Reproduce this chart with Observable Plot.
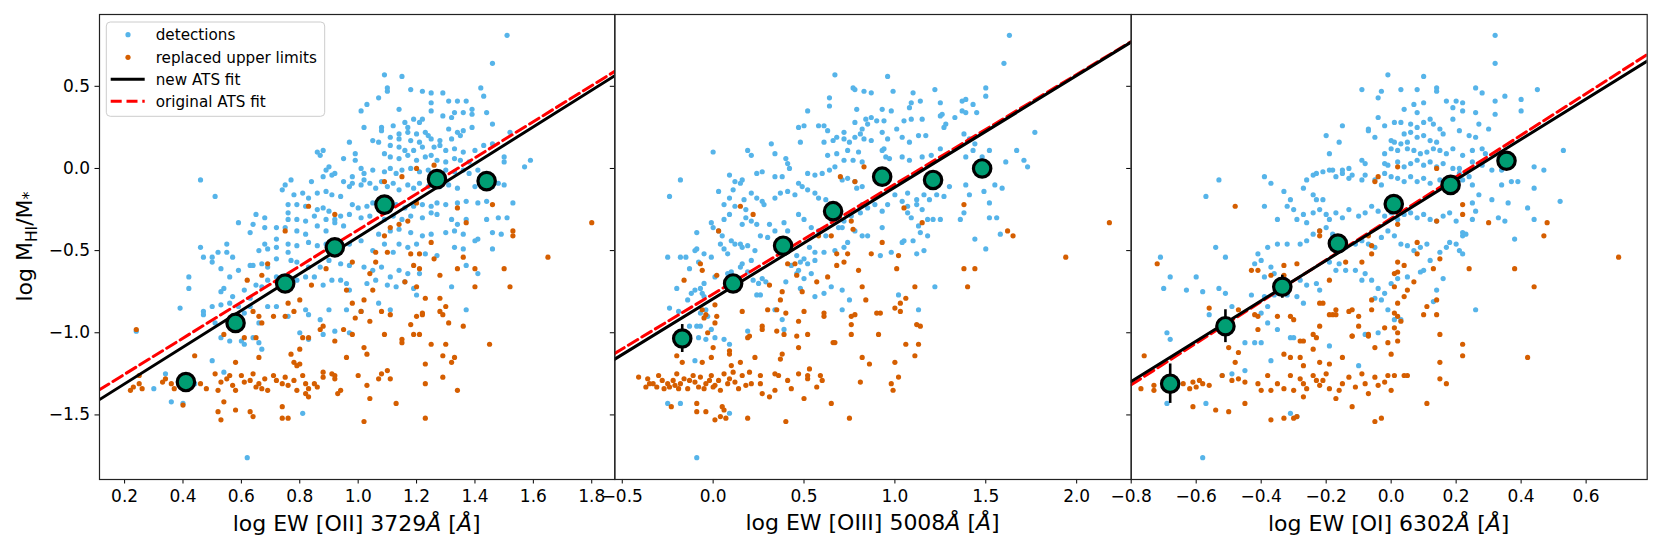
<!DOCTYPE html>
<html><head><meta charset="utf-8">
<script src="https://cdn.jsdelivr.net/npm/d3@7"></script>
<script src="https://cdn.jsdelivr.net/npm/@observablehq/plot@0.6"></script>
<style>body{margin:0;background:#fff;} #chart{position:relative;width:1661px;height:554px;overflow:hidden;}</style>
</head><body><div id="chart"></div>
<script>
// ---------- data ----------
const yTicks = [-1.5, -1.0, -0.5, 0.0, 0.5];
const yDomain = [-1.893, 0.937];
const xTicks1 = [0.2, 0.4, 0.6, 0.8, 1.0, 1.2, 1.4, 1.6, 1.8];
const xTicks2 = [-0.5, 0.0, 0.5, 1.0, 1.5, 2.0];
const xTicks3 = [-0.8, -0.6, -0.4, -0.2, 0.0, 0.2, 0.4, 0.6];
const xDomains = [[0.114, 1.879], [-0.541, 2.300], [-0.80, 0.788]];
const xLabels = ["log EW [OII] 3729", "log EW [OIII] 5008", "log EW [OI] 6302"];
const yLabel = ["log M", "HI", "/M", "*"];
const legendLabels = ["detections", "replaced upper limits", "new ATS fit", "original ATS fit"];
// fits: [slope, intercept]
const fitNew = [[1.117, -1.534], [0.679, -0.793], [1.228, -0.314]];
const fitOrig = [[1.098, -1.472], [0.668, -0.764], [1.266, -0.304]];
// binned means: [x, y, yerr]
const bins1 = [[0.41,-1.30,0.05],[0.58,-0.94,0.04],[0.75,-0.70,0.03],[0.92,-0.48,0.03],[1.09,-0.22,0.03],[1.27,-0.065,0.03],[1.44,-0.077,0.04]];
const bins2 = [[-0.17,-1.035,0.085],[0.11,-0.70,0.05],[0.385,-0.47,0.04],[0.66,-0.26,0.03],[0.93,-0.05,0.03],[1.21,-0.07,0.04],[1.48,0.0,0.05]];
const bins3 = [[-0.68,-1.31,0.12],[-0.51,-0.96,0.10],[-0.335,-0.72,0.07],[-0.164,-0.457,0.04],[0.008,-0.217,0.03],[0.183,-0.10,0.03],[0.355,0.047,0.04]];

const det1 = [[1.51,0.81],[1.46,0.64],[1.09,0.57],[1.15,0.56],[1.10,0.49],[1.10,0.47],[1.18,0.48],[1.22,0.47],[1.25,0.46],[1.29,0.46],[1.07,0.43],[1.42,0.49],[1.43,0.44],[1.34,0.41],[1.37,0.41],[1.31,0.41],[1.25,0.40],[1.03,0.39],[1.01,0.35],[1.14,0.36],[1.39,0.36],[1.39,0.33],[1.44,0.34],[1.29,0.32],[1.32,0.31],[1.33,0.34],[1.36,0.34],[1.25,0.35],[1.19,0.30],[1.21,0.28],[1.22,0.30],[1.16,0.28],[1.17,0.25],[1.46,0.27],[1.08,0.25],[1.12,0.26],[1.02,0.25],[1.08,0.23],[1.31,0.24],[1.34,0.22],[1.36,0.23],[1.39,0.25],[1.14,0.21],[1.17,0.22],[1.20,0.21],[1.23,0.22],[1.24,0.20],[1.11,0.19],[1.14,0.18],[1.18,0.17],[1.21,0.16],[1.25,0.18],[1.28,0.17],[1.32,0.18],[1.35,0.20],[0.97,0.16],[1.05,0.17],[1.07,0.16],[1.52,0.22],[1.43,0.14],[1.46,0.15],[1.11,0.14],[1.14,0.13],[1.16,0.11],[1.19,0.11],[1.22,0.13],[1.26,0.13],[1.28,0.14],[1.30,0.11],[1.33,0.12],[1.36,0.10],[1.40,0.11],[0.86,0.10],[0.88,0.11],[0.87,0.08],[0.95,0.06],[0.99,0.09],[0.99,0.05],[1.09,0.09],[1.11,0.07],[1.14,0.06],[1.17,0.08],[1.20,0.05],[1.23,0.07],[1.25,0.08],[1.27,0.05],[1.30,0.04],[1.33,0.06],[1.35,0.05],[1.38,0.04],[1.50,0.07],[1.50,0.04],[1.59,0.05],[1.57,0.01],[0.90,0.01],[0.89,-0.01],[0.92,-0.03],[1.01,0.00],[1.02,-0.03],[0.98,-0.05],[1.02,-0.07],[1.05,-0.01],[1.09,-0.02],[1.11,0.00],[1.13,-0.03],[1.15,-0.01],[1.18,0.00],[1.21,-0.02],[1.24,-0.01],[1.30,-0.01],[1.33,-0.02],[1.36,-0.01],[1.38,-0.03],[1.41,-0.01],
[0.98,-0.09],[1.01,-0.10],[1.04,-0.09],[1.06,-0.12],[1.08,-0.08],[1.10,-0.11],[1.12,-0.09],[1.14,-0.13],[1.17,-0.10],[1.19,-0.12],[1.21,-0.09],[1.24,-0.11],[1.28,-0.11],[1.31,-0.10],[1.34,-0.12],[1.40,-0.11],[1.46,-0.11],[1.48,-0.09],[1.50,-0.10],[0.84,-0.08],[0.88,-0.05],[0.91,-0.04],[0.95,-0.08],[0.97,-0.11],[0.46,-0.07],[0.51,-0.17],[0.74,-0.13],[0.77,-0.07],[0.75,-0.10],[0.78,-0.16],[0.81,-0.15],[0.83,-0.18],[0.86,-0.15],[0.89,-0.14],[0.91,-0.16],[0.94,-0.17],[0.76,-0.22],[0.79,-0.22],[0.82,-0.23],[0.86,-0.25],[0.88,-0.24],[0.90,-0.26],[0.98,-0.22],[1.00,-0.24],[1.03,-0.23],[1.05,-0.21],[1.07,-0.25],[1.10,-0.23],[1.13,-0.22],[1.16,-0.24],[1.19,-0.23],[1.22,-0.22],[1.25,-0.23],[1.27,-0.21],[1.30,-0.22],[1.34,-0.21],[1.37,-0.20],[1.41,-0.21],[1.44,-0.20],[1.53,-0.21],
[0.65,-0.28],[0.68,-0.30],[0.76,-0.27],[0.76,-0.31],[0.79,-0.31],[0.82,-0.32],[0.85,-0.29],[0.89,-0.31],[0.92,-0.31],[0.94,-0.29],[0.97,-0.28],[1.01,-0.30],[1.04,-0.29],[1.09,-0.31],[1.12,-0.29],[1.15,-0.31],[1.18,-0.29],[1.22,-0.30],[1.25,-0.27],[1.27,-0.28],[1.32,-0.31],[1.34,-0.34],[1.37,-0.31],[1.44,-0.31],[1.48,-0.30],[1.51,-0.30],[0.59,-0.33],
[0.63,-0.39],[0.64,-0.34],[0.68,-0.36],[0.72,-0.36],[0.75,-0.36],[0.79,-0.38],[0.82,-0.40],[0.86,-0.35],[0.89,-0.38],[0.92,-0.33],[0.95,-0.35],[1.07,-0.40],[1.11,-0.38],[1.14,-0.37],[1.18,-0.39],[1.22,-0.41],[1.25,-0.40],[1.30,-0.39],[1.33,-0.38],[1.36,-0.40],[1.40,-0.44],[1.46,-0.39],[1.49,-0.40],
[0.72,-0.43],[0.68,-0.46],[0.66,-0.50],[0.69,-0.49],[0.72,-0.48],[0.76,-0.46],[0.79,-0.47],[0.83,-0.45],[0.86,-0.47],[0.89,-0.46],[0.97,-0.46],[1.01,-0.44],[1.05,-0.50],[1.09,-0.46],[1.12,-0.51],[1.14,-0.46],[1.17,-0.48],[1.20,-0.46],[1.23,-0.52],[1.27,-0.53],[1.33,-0.48],[1.36,-0.49],[1.46,-0.49],[1.41,-0.43],
[0.46,-0.48],[0.47,-0.54],[0.50,-0.54],[0.52,-0.51],[0.55,-0.46],[0.55,-0.51],[0.57,-0.54],[0.50,-0.57],[0.53,-0.61],[0.56,-0.66],[0.59,-0.62],[0.42,-0.66],[0.42,-0.73],
[0.63,-0.59],[0.64,-0.59],[0.67,-0.58],[0.69,-0.60],[0.72,-0.55],[0.76,-0.51],[0.77,-0.56],[0.79,-0.57],[0.83,-0.60],[0.87,-0.60],[0.90,-0.56],[0.94,-0.58],[0.97,-0.59],[1.02,-0.60],[1.05,-0.62],[1.08,-0.60],[1.11,-0.66],[1.14,-0.62],[1.17,-0.64],[1.21,-0.64],[1.37,-0.59],[1.41,-0.64],
[0.54,-0.73],[0.53,-0.75],[0.57,-0.78],[0.61,-0.74],[0.63,-0.79],[0.65,-0.71],[0.67,-0.72],[0.69,-0.68],[0.72,-0.66],[0.75,-0.72],[0.79,-0.68],[0.82,-0.66],[0.85,-0.66],[0.88,-0.71],[0.91,-0.68],[0.94,-0.68],[0.96,-0.70],[0.97,-0.74],[1.03,-0.70],[1.06,-0.68],[1.10,-0.71],[1.13,-0.72],[1.16,-0.69],[1.19,-0.73],[1.20,-0.77],[1.32,-0.72],
[0.39,-0.85],[0.47,-0.87],[0.47,-0.89],[0.50,-0.84],[0.51,-0.94],[0.53,-0.83],[0.56,-0.82],[0.59,-0.84],[0.61,-0.88],[0.63,-0.84],[0.66,-0.94],[0.69,-0.84],[0.72,-0.84],[0.76,-0.90],[0.82,-0.86],[0.83,-0.89],[0.87,-0.92],[0.90,-0.86],[0.96,-0.86],[1.01,-0.87],[1.07,-0.82],[1.11,-0.86],[1.37,-0.86],
[0.24,-0.99],[0.53,-1.03],[0.56,-1.05],[0.60,-1.05],[0.61,-1.07],[0.64,-1.03],[0.66,-1.06],[0.67,-1.10],[0.80,-1.00],[0.83,-1.04],[0.88,-1.01],[0.92,-0.99],[0.97,-1.00],[0.50,-1.17],[0.54,-1.24],[0.34,-1.25],[0.36,-1.42],[0.40,-1.43],[0.30,-1.34],[0.44,-1.31],[0.81,-1.49],[0.62,-1.76]];

const lim1 = [[0.24,-0.98],[1.80,-0.33],[1.65,-0.54],[1.53,-0.38],[1.53,-0.41],[1.46,-0.22],[1.37,-0.33],[1.34,-0.24],[1.50,-0.61],[1.52,-0.72],[1.45,-1.07],[1.40,-0.61],[1.40,-0.72],[1.36,-0.54],[1.34,-0.61],[1.36,-0.96],[1.28,-0.65],[1.30,-0.84],[1.28,-0.87],[1.29,-0.89],[1.31,-0.94],[1.28,-0.79],[1.30,-1.07],[1.25,-1.07],[1.33,-1.15],[1.32,-1.18],[1.29,-1.14],[1.29,-1.27],[1.34,-1.35],[1.23,-1.19],[1.23,-1.31],[1.23,-1.52],[1.25,-0.45],[1.26,-0.55],[1.26,0.02],[1.20,0.00],[1.20,-0.21],[1.15,-0.05],[1.17,-0.32],[1.14,-0.34],[1.11,-0.36],[1.09,-0.08],[1.18,-0.52],[1.21,-0.52],[1.19,-0.59],[1.21,-0.61],[1.20,-0.72],[1.23,-0.79],[1.16,-0.69],[1.22,-0.89],[1.22,-0.88],[1.20,-0.90],[1.18,-0.95],[1.19,-1.01],[1.21,-1.01],[1.15,-1.04],[1.15,-1.06],[1.13,-1.43],[1.11,-0.89],[1.08,-0.87],[1.09,-1.01],[1.10,-1.23],[1.11,-1.28],[1.08,-1.25],[1.07,-1.28],[1.09,-0.41],[1.10,-0.51],[1.06,-0.51],[1.06,-0.57],[1.04,-0.64],[1.05,-0.74],[1.02,-0.80],[1.02,-1.09],[1.03,-1.13],[1.01,-0.87],[0.99,-0.91],[1.00,-1.26],[1.04,-0.93],[1.03,-1.32],[1.04,-1.40],[1.02,-1.54],[0.98,-1.01],[0.98,-0.57],[0.98,-0.82],[0.96,-0.74],[0.96,-1.15],[0.95,-0.98],[0.92,-1.05],[0.92,-1.26],[0.91,-1.25],[0.92,-1.28],[0.94,-1.35],[0.93,-1.37],[0.89,-0.61],[0.92,-0.28],[0.83,-0.23],[0.84,-0.71],[0.80,-0.80],[0.76,-0.82],[0.78,-0.87],[0.75,-0.90],[0.71,-0.90],[0.66,-0.90],[0.67,-0.94],[0.64,-0.87],[0.62,-0.68],[0.67,-0.65],[0.69,-0.58],[0.75,-0.38],[0.66,-1.15],[0.58,-1.18],[0.61,-1.03],[0.65,-1.03],[0.80,-1.10],[0.83,-1.03],[0.81,-1.03],[0.77,-1.13],[0.78,-1.18],[0.79,-1.20],[0.80,-1.19],[0.88,-0.96],[0.87,-0.98],[0.44,-1.14],[0.54,-1.01],
[0.22,-1.35],[0.23,-1.33],[0.25,-1.31],[0.26,-1.34],[0.25,-1.26],[0.33,-1.30],[0.34,-1.28],[0.36,-1.31],[0.37,-1.34],[0.46,-1.31],[0.48,-1.34],[0.51,-1.25],[0.52,-1.35],[0.53,-1.30],[0.55,-1.28],[0.56,-1.26],[0.57,-1.32],[0.58,-1.35],[0.60,-1.26],[0.61,-1.30],[0.63,-1.29],[0.64,-1.25],[0.65,-1.33],[0.66,-1.31],[0.67,-1.34],[0.68,-1.28],[0.69,-1.35],[0.71,-1.26],[0.72,-1.29],[0.74,-1.31],[0.75,-1.27],[0.76,-1.32],[0.78,-1.29],[0.79,-1.35],[0.81,-1.26],[0.82,-1.31],[0.83,-1.34],[0.85,-1.31],[0.86,-1.33],[0.88,-1.24],[0.88,-1.27],[0.82,-1.37],[0.83,-1.39],[0.40,-1.44],[0.54,-1.42],[0.52,-1.48],[0.53,-1.53],[0.58,-1.47],[0.63,-1.48],[0.64,-1.51],[0.74,-1.45],[0.74,-1.52],[0.76,-1.52]];

const det2 = [[1.63,0.81],[1.60,0.64],[0.67,0.57],[0.96,0.56],[0.77,0.49],[0.78,0.48],[0.83,0.47],[0.87,0.46],[0.99,0.47],[1.10,0.46],[1.14,0.41],[1.22,0.48],[0.64,0.43],[0.64,0.38],[1.09,0.40],[1.25,0.40],[1.37,0.41],[1.39,0.42],[1.43,0.39],[1.50,0.49],[1.50,0.44],[0.79,0.36],[0.93,0.36],[0.98,0.35],[1.08,0.37],[1.37,0.35],[1.39,0.34],[1.45,0.34],[0.52,0.35],[1.26,0.33],[1.25,0.32],[0.84,0.30],[0.87,0.31],[0.90,0.29],[0.85,0.27],[0.94,0.29],[1.05,0.29],[1.09,0.30],[1.15,0.30],[1.28,0.27],[1.27,0.25],[1.33,0.31],[0.78,0.28],[0.82,0.24],[0.81,0.21],[0.58,0.26],[0.61,0.26],[0.63,0.23],[0.50,0.26],[0.47,0.25],[0.72,0.22],[0.75,0.16],[0.68,0.19],[0.72,0.18],[0.78,0.19],[0.83,0.18],[0.87,0.17],[0.93,0.22],[0.96,0.18],[1.01,0.24],[1.04,0.19],[1.08,0.16],[1.13,0.20],[1.17,0.20],[1.38,0.21],[1.41,0.18],[1.44,0.15],[1.77,0.22],[0.48,0.16],[0.61,0.16],[0.66,0.17],[0.32,0.15],[0.19,0.11],[0.21,0.08],[0.34,0.09],[0.00,0.10],[0.40,0.06],[0.41,0.03],[0.42,0.00],[0.63,0.08],[0.68,0.09],[0.74,0.11],[0.80,0.10],[0.72,0.05],[0.77,0.05],[0.82,0.04],[0.94,0.12],[0.93,0.11],[0.95,0.07],[0.97,0.06],[1.04,0.07],[1.08,0.05],[1.15,0.07],[1.20,0.08],[1.25,0.12],[1.39,0.07],[1.43,0.11],[1.48,0.07],[1.52,0.11],[1.61,0.04],[1.67,0.11],[1.71,0.05],[1.73,0.01],[0.24,-0.03],[0.27,-0.02],[0.34,-0.05],[0.38,-0.05],[0.09,-0.04],[0.16,-0.07],[0.15,-0.09],[0.12,-0.08],[0.11,-0.13],[0.03,-0.14],[0.09,-0.18],[-0.24,-0.17],[-0.18,-0.07],[0.52,-0.03],[0.56,-0.04],[0.60,-0.03],[0.64,-0.01],[0.67,0.01],[0.71,-0.07],[0.74,-0.06],[0.78,-0.08],[0.79,-0.12],[0.82,-0.11],[0.47,-0.09],[0.49,-0.11],[0.52,-0.13],[0.56,-0.15],[0.58,-0.18],[0.62,-0.19],[0.41,-0.14],[0.45,-0.16],[0.37,-0.15],[0.34,-0.18],[0.21,-0.15],[0.24,-0.18],[0.27,-0.20],[0.28,-0.22],[0.17,-0.19],[0.18,-0.25],[0.12,-0.23],[0.06,-0.22],[0.18,-0.30],[0.21,-0.32],[0.16,-0.34],[0.09,-0.28],[0.06,-0.31],[-0.01,-0.33],[0.00,-0.36],[-0.09,-0.39],[0.03,-0.38],[0.05,-0.41],[0.10,-0.44],[0.12,-0.46],[0.04,-0.46],[0.06,-0.49],[0.08,-0.52],[0.15,-0.46],[0.16,-0.48],[0.19,-0.47],[0.23,-0.50],[0.26,-0.41],[0.30,-0.42],[0.34,-0.38],[0.24,-0.34],[0.31,-0.34],[0.39,-0.33],[0.41,-0.38],[0.47,-0.28],[0.50,-0.31],[0.54,-0.36],[0.58,-0.38],[0.62,-0.41],[0.65,-0.31],[0.69,-0.36],[0.72,-0.32],[0.76,-0.29],[0.81,-0.27],[0.82,-0.22],[0.85,-0.24],[0.89,-0.22],[0.93,-0.26],[0.96,-0.22],[1.00,-0.16],[1.04,-0.20],[1.07,-0.15],[1.12,-0.19],[1.16,-0.16],[1.19,-0.19],[1.23,-0.16],[1.27,-0.17],[1.30,-0.11],[1.39,-0.10],[1.41,-0.16],[1.49,-0.14],[1.52,-0.21],[1.55,-0.10],[1.59,-0.12],[1.38,-0.27],[1.36,-0.31],[1.52,-0.30],[1.56,-0.30],[1.44,-0.43],[1.50,-0.49],[1.58,-0.40],[1.07,-0.23],[1.12,-0.22],[1.15,-0.25],[1.18,-0.31],[1.21,-0.31],[1.25,-0.31],[1.07,-0.27],[1.09,-0.30],[1.13,-0.35],[1.14,-0.39],[1.18,-0.41],[1.04,-0.45],[1.05,-0.44],[1.10,-0.44],[1.12,-0.52],[1.16,-0.50],[0.98,-0.51],[0.93,-0.36],[0.92,-0.53],[0.85,-0.41],[0.82,-0.41],[0.78,-0.38],[0.71,-0.36],[0.74,-0.45],[0.72,-0.48],[0.67,-0.50],[0.61,-0.51],[0.56,-0.51],[0.53,-0.48],[0.50,-0.55],[0.48,-0.57],[0.46,-0.53],[0.43,-0.59],[0.47,-0.62],[0.52,-0.58],[0.56,-0.56],[0.40,-0.69],[0.46,-0.64],[0.50,-0.67],[0.54,-0.64],[0.48,-0.73],[0.56,-0.78],[0.61,-0.76],[0.65,-0.72],[0.71,-0.74],[0.75,-0.80],[0.71,-0.86],[1.02,-0.77],[1.13,-0.86],[1.22,-0.72],[0.22,-0.68],[0.25,-0.70],[0.27,-0.67],[0.29,-0.69],[0.24,-0.77],[0.26,-0.77],[0.16,-0.58],[0.15,-0.60],[0.21,-0.56],[0.19,-0.63],[0.08,-0.64],[0.10,-0.63],[0.11,-0.70],[0.14,-0.72],[0.01,-0.66],[-0.05,-0.70],[-0.07,-0.73],[-0.06,-0.76],[-0.05,-0.78],[-0.10,-0.74],[-0.12,-0.76],[-0.14,-0.80],[-0.20,-0.73],[-0.08,-0.57],[-0.09,-0.49],[-0.10,-0.50],[-0.05,-0.52],[-0.01,-0.54],[-0.13,-0.61],[-0.25,-0.54],[-0.18,-0.54],[-0.15,-0.54],[-0.24,-0.85],[-0.19,-0.87],[-0.13,-0.96],[-0.09,-0.96],[-0.07,-0.96],[-0.07,-0.88],[-0.04,-0.86],[-0.03,-0.90],[-0.01,-0.98],[-0.08,-1.03],[-0.04,-1.04],[0.01,-1.03],[0.06,-1.04],[0.09,-1.07],[-0.10,-1.17],[-0.25,-1.43],[-0.18,-1.43],[0.09,-1.49],[0.19,-0.99],[0.34,-0.86],[0.38,-0.92],[0.39,-0.98],[-0.09,-1.76]];

const lim2 = [[2.18,-0.33],[1.94,-0.54],[1.62,-0.38],[1.65,-0.41],[1.38,-0.22],[1.38,-0.61],[1.44,-0.61],[1.40,-0.72],[1.15,-0.33],[1.05,-0.24],[1.02,-0.53],[1.01,-0.61],[1.11,-0.72],[1.06,-0.79],[1.03,-0.82],[1.00,-0.85],[1.03,-0.87],[1.12,-0.95],[1.14,-0.96],[1.06,-1.07],[1.13,-1.07],[1.11,-1.14],[1.00,-1.18],[1.02,-1.27],[0.98,-1.31],[0.99,-1.35],[0.91,-1.01],[0.92,-0.88],[0.90,-0.88],[0.93,-0.45],[0.87,-0.52],[0.83,0.01],[0.78,-0.08],[0.70,-0.05],[0.76,-0.32],[0.77,-0.37],[0.72,-0.57],[0.74,-0.52],[0.68,-0.52],[0.68,-0.59],[0.80,-0.62],[0.82,-0.72],[0.84,-0.80],[0.76,-0.90],[0.78,-0.89],[0.76,-0.95],[0.76,-1.01],[0.82,-1.15],[0.86,-1.19],[0.81,-1.30],[0.75,-1.52],[0.65,-1.43],[0.67,-1.06],[0.66,-1.06],[0.58,-0.41],[0.65,-0.41],[0.57,-0.69],[0.63,-0.66],[0.61,-0.88],[0.61,-0.90],[0.50,-0.87],[0.47,-0.93],[0.46,-1.02],[0.52,-1.01],[0.47,-1.09],[0.53,-1.22],[0.52,-1.28],[0.59,-1.26],[0.60,-1.29],[0.57,-1.33],[0.50,-1.40],[0.40,-1.54],[0.45,-0.58],[0.46,-0.65],[0.49,-0.75],[0.41,-0.58],[0.38,-0.75],[0.37,-0.80],[0.31,-0.71],[0.30,-0.86],[0.35,-0.86],[0.40,-0.88],[0.27,-0.96],[0.27,-0.98],[0.35,-0.99],[0.39,-1.01],[0.38,-1.13],[0.37,-1.16],[0.23,-1.15],[0.34,-1.25],[0.36,-1.26],[0.41,-1.29],[0.43,-1.34],[0.47,-1.25],[0.52,-1.26],[0.26,-1.26],[0.27,-1.37],[0.31,-1.39],[0.34,-1.35],[0.19,-1.52],[0.22,-0.28],[0.15,-0.23],[0.19,-1.03],[0.20,-1.02],[0.16,-0.87],[0.10,-1.20],[0.15,-1.18],[0.20,-1.24],[0.09,-1.11],[0.09,-1.13],[0.03,-0.38],[-0.06,-0.62],[-0.07,-0.58],[-0.16,-0.68],[0.02,-0.65],[0.01,-0.83],[-0.06,-0.86],[-0.04,-0.89],[-0.05,-0.91],[0.02,-0.90],[0.01,-0.94],[-0.03,-1.00],[0.00,-1.09],[-0.06,-1.18],[-0.01,-1.15],[-0.20,-1.14],[-0.17,-1.18],
[-0.41,-1.27],[-0.36,-1.28],[-0.37,-1.33],[-0.33,-1.31],[-0.31,-1.33],[-0.30,-1.26],[-0.25,-1.31],[-0.24,-1.33],[-0.22,-1.29],[-0.20,-1.25],[-0.19,-1.34],[-0.18,-1.31],[-0.16,-1.28],[-0.14,-1.34],[-0.11,-1.26],[-0.10,-1.30],[-0.08,-1.33],[-0.07,-1.27],[-0.05,-1.34],[-0.04,-1.31],[-0.01,-1.26],[0.01,-1.32],[0.03,-1.29],[0.04,-1.35],[0.06,-1.25],[0.08,-1.31],[0.11,-1.24],[0.12,-1.30],[0.14,-1.34],[0.16,-1.26],[0.18,-1.32],[0.21,-1.31],[0.26,-1.31],[-0.28,-1.29],[-0.27,-1.34],[-0.13,-1.29],[-0.02,-1.29],[0.00,-1.33],[0.09,-1.28],[-0.35,-1.31],[-0.21,-1.32],
[-0.23,-1.45],[-0.09,-1.43],[-0.09,-1.48],[-0.04,-1.48],[0.01,-1.53],[0.05,-1.45],[0.06,-1.47],[0.04,-1.51],[0.07,-1.52]];

const det3 = [[0.32,0.81],[0.32,0.64],[-0.01,0.57],[0.10,0.56],[-0.09,0.48],[-0.03,0.47],[0.03,0.48],[0.08,0.48],[0.14,0.49],[0.14,0.47],[-0.04,0.43],[0.26,0.49],[0.28,0.46],[0.35,0.44],[0.32,0.41],[0.40,0.42],[0.45,0.48],[0.17,0.41],[0.20,0.41],[0.22,0.40],[0.22,0.35],[0.19,0.37],[0.04,0.36],[0.07,0.39],[0.08,0.34],[0.10,0.40],[0.26,0.34],[0.32,0.33],[0.40,0.35],[-0.04,0.31],[-0.02,0.26],[0.01,0.28],[0.03,0.28],[0.06,0.27],[0.08,0.25],[0.10,0.28],[0.12,0.30],[0.13,0.27],[-0.15,0.26],[-0.07,0.24],[-0.07,0.23],[0.15,0.24],[0.19,0.30],[0.16,0.21],[0.04,0.21],[0.06,0.22],[0.08,0.19],[0.10,0.20],[0.12,0.17],[0.14,0.16],[0.21,0.23],[0.24,0.20],[0.27,0.27],[0.30,0.24],[0.26,0.19],[-0.05,0.19],[0.00,0.17],[0.01,0.16],[0.03,0.15],[0.05,0.16],[-0.20,0.20],[-0.16,0.16],[-0.19,0.09],[-0.02,0.09],[0.00,0.12],[0.02,0.11],[0.05,0.12],[0.07,0.11],[0.09,0.09],[0.11,0.10],[0.13,0.12],[0.15,0.11],[0.17,0.09],[0.19,0.12],[0.22,0.08],[0.28,0.12],[0.29,0.09],[0.25,0.11],[0.53,0.11],[-0.09,0.05],[-0.08,0.03],[-0.13,0.00],[-0.15,-0.01],[-0.18,-0.01],[-0.02,0.03],[-0.01,0.02],[0.02,0.04],[0.04,0.01],[0.06,0.03],[0.08,0.05],[0.10,0.02],[0.12,0.04],[0.14,0.01],[0.16,0.03],[0.19,0.00],[0.21,0.00],[0.25,0.04],[0.28,0.02],[0.31,-0.01],[0.34,-0.01],[0.44,0.01],[0.47,-0.01],[-0.23,-0.03],[-0.21,-0.02],[-0.19,-0.01],[-0.17,-0.05],[-0.15,-0.03],[-0.13,-0.06],[-0.12,-0.04],[-0.09,-0.07],[-0.08,-0.04],[-0.05,-0.07],[-0.03,-0.10],[-0.02,-0.03],[0.00,-0.05],[0.02,-0.06],[0.04,-0.08],[0.06,-0.05],[0.08,-0.08],[0.10,-0.06],[0.12,-0.09],[0.15,-0.07],[0.16,-0.10],[0.21,-0.03],[0.22,-0.07],[0.24,-0.05],[0.25,-0.10],[0.34,-0.10],[0.37,-0.08],[0.39,-0.08],[0.44,-0.12],[0.27,-0.16],[0.31,-0.19],[0.25,-0.21],[0.36,-0.21],[0.38,-0.43],[0.42,-0.24],[0.44,-0.31],[0.52,-0.20],[0.33,-0.30],[0.35,-0.32],[0.26,-0.26],[0.25,-0.31],[-0.39,-0.05],[-0.37,-0.09],[-0.39,-0.23],[-0.35,-0.31],[-0.33,-0.14],[-0.32,-0.23],[-0.31,-0.19],[-0.26,-0.07],[-0.24,-0.04],[-0.27,-0.12],[-0.24,-0.16],[-0.23,-0.19],[-0.21,-0.19],[-0.30,-0.25],[-0.27,-0.28],[-0.26,-0.33],[-0.29,-0.31],[-0.24,-0.27],[-0.22,-0.25],[-0.20,-0.28],[-0.19,-0.31],[-0.17,-0.27],[-0.15,-0.30],[-0.13,-0.25],[-0.10,-0.29],[-0.08,-0.27],[-0.06,-0.23],[-0.04,-0.26],[-0.02,-0.29],[0.00,-0.27],[0.02,-0.31],[0.04,-0.28],[0.06,-0.27],[0.08,-0.30],[0.10,-0.28],[0.12,-0.31],[0.14,-0.32],[0.16,-0.29],[0.18,-0.27],[0.20,-0.32],[0.22,-0.39],[0.22,-0.41],[0.23,-0.40],[0.20,-0.46],[0.21,-0.50],[0.22,-0.52],[0.15,-0.51],[0.17,-0.48],[0.18,-0.45],[0.11,-0.46],[0.09,-0.48],[0.07,-0.50],[0.05,-0.47],[0.03,-0.46],[0.01,-0.41],[-0.01,-0.38],[-0.03,-0.42],[-0.05,-0.48],[-0.07,-0.46],[-0.09,-0.44],[-0.11,-0.46],[-0.14,-0.48],[-0.16,-0.42],[-0.18,-0.40],[-0.20,-0.36],[-0.22,-0.38],[-0.24,-0.40],[-0.26,-0.44],[-0.28,-0.46],[-0.32,-0.46],[-0.35,-0.46],[-0.38,-0.48],[-0.41,-0.52],[-0.40,-0.56],[-0.42,-0.58],[-0.37,-0.60],[-0.36,-0.64],[-0.39,-0.66],[-0.19,-0.57],[-0.17,-0.62],[-0.16,-0.58],[-0.14,-0.62],[-0.11,-0.62],[-0.09,-0.68],[-0.08,-0.64],[-0.06,-0.68],[-0.04,-0.73],[-0.02,-0.76],[0.00,-0.70],[0.02,-0.67],[0.05,-0.66],[0.09,-0.63],[0.10,-0.62],[0.12,-0.56],[0.16,-0.67],[0.14,-0.74],[0.13,-0.81],[-0.05,-0.79],[-0.03,-0.80],[-0.01,-0.86],[0.01,-0.92],[0.03,-0.92],[-0.04,-1.00],[-0.08,-1.01],[-0.19,-1.08],[-0.22,-0.74],[-0.23,-0.70],[-0.26,-0.71],[-0.28,-0.68],[-0.29,-0.78],[-0.27,-0.82],[-0.35,-0.74],[-0.32,-0.77],[-0.36,-0.77],[-0.43,-0.77],[-0.39,-0.78],[-0.38,-0.84],[-0.40,-0.88],[-0.38,-0.94],[-0.35,-0.98],[-0.31,-1.03],[-0.40,-1.06],[-0.42,-1.06],[-0.45,-1.06],[-0.49,-0.84],[-0.56,-0.89],[-0.53,-0.07],[-0.57,-0.17],[-0.54,-0.48],[-0.51,-0.54],[-0.60,-0.66],[-0.63,-0.74],[-0.58,-0.75],[-0.53,-0.73],[-0.51,-0.76],[-0.71,-0.54],[-0.68,-0.66],[-0.70,-0.73],[-0.69,-1.00],[-0.68,-1.04],[-0.37,-1.17],[-0.30,-1.03],[-0.45,-1.23],[-0.52,-1.26],[-0.49,-1.25],[-0.69,-1.43],[-0.57,-1.43],[-0.31,-1.49],[-0.29,-1.51],[-0.10,-1.20],[0.26,-0.86],[-0.58,-1.76]];

const lim3 = [[0.70,-0.54],[0.48,-0.33],[0.47,-0.41],[0.38,-0.61],[0.44,-0.72],[0.42,-1.15],[0.30,-0.33],[0.22,-0.22],[0.22,-0.28],[0.14,0.00],[0.08,-0.45],[0.08,-0.52],[0.02,0.01],[-0.04,-0.05],[-0.05,-0.08],[-0.07,-0.41],[-0.06,-0.52],[0.02,-0.34],[0.14,-0.32],[0.02,-0.57],[0.04,-0.59],[0.02,-0.63],[0.01,-0.64],[0.07,-0.69],[0.05,-0.74],[0.04,-0.78],[0.01,-0.72],[0.15,-0.55],[0.13,-0.61],[0.24,-0.61],[0.14,-0.80],[0.14,-0.89],[0.11,-0.84],[0.10,-0.89],[0.15,-1.01],[0.15,-1.18],[0.15,-1.28],[0.17,-1.31],[0.22,-1.07],[0.22,-1.14],[0.11,-1.43],[0.05,-1.26],[0.02,-0.82],[0.01,-0.88],[0.02,-0.90],[0.03,-0.93],[0.01,-0.97],[0.02,-1.00],[0.02,-1.05],[-0.01,-1.06],[0.00,-1.13],[-0.02,-0.97],[-0.06,-0.80],[-0.06,-0.86],[-0.07,-1.01],[-0.05,-1.09],[-0.07,-1.02],[-0.10,-0.90],[-0.10,-0.96],[-0.12,-0.86],[-0.13,-0.87],[-0.12,-1.02],[-0.14,-0.57],[-0.09,-0.57],[-0.06,-0.47],[-0.19,-0.89],[-0.18,-0.89],[-0.17,-0.89],[-0.17,-0.86],[-0.19,-0.68],[-0.22,-0.82],[-0.21,-0.82],[-0.22,-0.38],[-0.22,-0.41],[-0.24,-1.01],[-0.23,-1.03],[-0.22,-0.96],[-0.24,-1.10],[-0.27,-1.05],[-0.28,-1.05],[-0.15,-1.15],[-0.12,-1.02],[-0.22,-1.18],[-0.19,-1.19],[-0.30,-0.92],[-0.31,-0.90],[-0.35,-0.90],[-0.33,-0.59],[-0.29,-0.58],[-0.33,-0.65],[-0.37,-0.65],[-0.41,-0.62],[-0.43,-0.62],[-0.41,-0.90],[-0.42,-0.89],[-0.41,-0.98],[-0.47,-0.86],[-0.47,-1.12],[-0.48,-0.23],[-0.56,-0.85],[-0.50,-1.09],[-0.48,-1.18],[-0.33,-1.13],[-0.31,-1.15],[-0.28,-1.15],[-0.27,-1.20],[-0.72,-0.58],[-0.76,-1.14],
[-0.77,-1.34],[-0.73,-1.35],[-0.73,-1.32],[-0.64,-1.31],[-0.62,-1.34],[-0.61,-1.30],[-0.60,-1.33],[-0.59,-1.29],[-0.58,-1.31],[-0.56,-1.32],[-0.52,-1.26],[-0.49,-1.29],[-0.47,-1.28],[-0.45,-1.30],[-0.41,-1.31],[-0.40,-1.35],[-0.38,-1.26],[-0.37,-1.35],[-0.35,-1.31],[-0.33,-1.34],[-0.31,-1.26],[-0.30,-1.35],[-0.28,-1.28],[-0.27,-1.31],[-0.26,-1.34],[-0.24,-1.26],[-0.23,-1.29],[-0.22,-1.32],[-0.21,-1.29],[-0.20,-1.25],[-0.19,-1.34],[-0.17,-1.40],[-0.16,-1.35],[-0.15,-1.31],[-0.13,-1.27],[-0.11,-1.33],[-0.09,-1.25],[-0.08,-1.31],[-0.07,-1.37],[-0.05,-1.27],[-0.04,-1.32],[-0.02,-1.30],[-0.01,-1.26],[0.00,-1.35],
[-0.61,-1.45],[-0.54,-1.47],[-0.50,-1.48],[-0.45,-1.43],[-0.37,-1.53],[-0.33,-1.52],[-0.30,-1.52],[-0.29,-1.51],[-0.27,-1.39],[-0.12,-1.45],[-0.05,-1.54],[-0.03,-1.52],[0.01,-1.26],[0.04,-1.26]];

// ---------- styling ----------
const C_DET = "#56B4E9", C_LIM = "#D55E00", C_BIN = "#009E73";
const FONT = "DejaVu Sans";
const fmt = d3.format(".1f");
const DOT_R = 2.6;

const panels = [
  {left: 0, width: 700, ml: 99, mr: 85.7, xDomain: xDomains[0], xTicks: xTicks1, det: det1, lim: lim1, bins: bins1, fn: fitNew[0], fo: fitOrig[0], label: xLabels[0], yLabels: true},
  {left: 560, width: 630.7, ml: 54.3, mr: 60, xDomain: xDomains[1], xTicks: xTicks2, det: det2, lim: lim2, bins: bins2, fn: fitNew[1], fo: fitOrig[1], label: xLabels[1], yLabels: false},
  {left: 1076, width: 585, ml: 54.7, mr: 14.3, xDomain: xDomains[2], xTicks: xTicks3, det: det3, lim: lim3, bins: bins3, fn: fitNew[2], fo: fitOrig[2], label: xLabels[2], yLabels: false}
];

const container = document.getElementById("chart");
const svgs = [];
for (const p of panels) {
  const ends = p.xDomain;
  const lineNew = ends.map(x => ({x, y: p.fn[0] * x + p.fn[1]}));
  const lineOrig = ends.map(x => ({x, y: p.fo[0] * x + p.fo[1]}));
  const svg = Plot.plot({
    width: p.width, height: 554,
    marginTop: 14, marginBottom: 75, marginLeft: p.ml, marginRight: p.mr,
    style: {fontFamily: FONT, fontSize: "17px", background: "transparent", overflow: "visible", color: "black"},
    x: {domain: p.xDomain, ticks: p.xTicks, tickFormat: fmt, tickSize: 4.5, tickPadding: 6, label: null},
    y: {domain: yDomain, ticks: yTicks, tickFormat: p.yLabels ? fmt : () => "", tickSize: 4.5, tickPadding: 5, label: null},
    marks: [
      Plot.dot(p.det, {x: d => d[0], y: d => d[1], r: DOT_R, fill: C_DET}),
      Plot.dot(p.lim, {x: d => d[0], y: d => d[1], r: DOT_R, fill: C_LIM}),
      Plot.line(lineOrig, {x: "x", y: "y", stroke: "#ff0000", strokeWidth: 3, strokeDasharray: "11,4.8", clip: true}),
      Plot.line(lineNew, {x: "x", y: "y", stroke: "black", strokeWidth: 3, clip: true}),
      Plot.ruleX(p.bins, {x: d => d[0], y1: d => d[1] - d[2], y2: d => d[1] + d[2], stroke: "black", strokeWidth: 2.6}),
      Plot.dot(p.bins, {x: d => d[0], y: d => d[1], r: 8.7, fill: C_BIN, stroke: "black", strokeWidth: 3.2}),
      Plot.frame({stroke: "#222", strokeWidth: 1.2})
    ]
  });
  svg.style.position = "absolute";
  svg.style.left = p.left + "px";
  svg.style.top = "0px";
  container.appendChild(svg);
  svgs.push(svg);

  // x-axis title with italic Å
  const cx = p.ml + (p.width - p.ml - p.mr) / 2;
  const t = d3.select(svg).append("text")
    .attr("x", cx).attr("y", 530.5).attr("text-anchor", "middle")
    .style("font-family", FONT).style("font-size", "22px").attr("fill", "black");
  t.append("tspan").text(p.label);
  t.append("tspan").style("font-style", "italic").text("Å");
  t.append("tspan").text(" [");
  t.append("tspan").style("font-style", "italic").text("Å");
  t.append("tspan").text("]");
}

// y-axis title
const sA = d3.select(svgs[0]);
const yl = sA.append("text")
  .attr("transform", "translate(32,246.5) rotate(-90)")
  .attr("text-anchor", "middle")
  .style("font-family", FONT).style("font-size", "22px").attr("fill", "black");
yl.append("tspan").text(yLabel[0]);
yl.append("tspan").style("font-size", "15.5px").attr("dy", 4.5).text(yLabel[1]);
yl.append("tspan").attr("dy", -4.5).text(yLabel[2]);
yl.append("tspan").style("font-size", "16px").attr("dy", 2).text(yLabel[3]);

// legend (inside the first panel)
const lg = sA.append("g").attr("text-anchor", "start").style("font-family", FONT).style("font-size", "15.2px");
lg.append("rect").attr("x", 106.3).attr("y", 22).attr("width", 218.4).attr("height", 94.3)
  .attr("rx", 4).attr("fill", "white").attr("fill-opacity", 0.8).attr("stroke", "#cccccc").attr("stroke-width", 1);
const rowsY = [34.7, 57.3, 79.2, 101.3];
lg.append("circle").attr("cx", 128).attr("cy", rowsY[0]).attr("r", DOT_R).attr("fill", C_DET);
lg.append("circle").attr("cx", 128).attr("cy", rowsY[1]).attr("r", DOT_R).attr("fill", C_LIM);
lg.append("line").attr("x1", 110.7).attr("x2", 144.7).attr("y1", rowsY[2]).attr("y2", rowsY[2]).attr("stroke", "black").attr("stroke-width", 3);
lg.append("line").attr("x1", 110.7).attr("x2", 144.7).attr("y1", rowsY[3]).attr("y2", rowsY[3]).attr("stroke", "#ff0000").attr("stroke-width", 3).attr("stroke-dasharray", "11,4.8");
legendLabels.forEach((s, i) => {
  lg.append("text").attr("x", 155.7).attr("y", rowsY[i] + 5.4).attr("text-anchor", "start").attr("fill", "black").text(s);
});
</script>
</body></html>
